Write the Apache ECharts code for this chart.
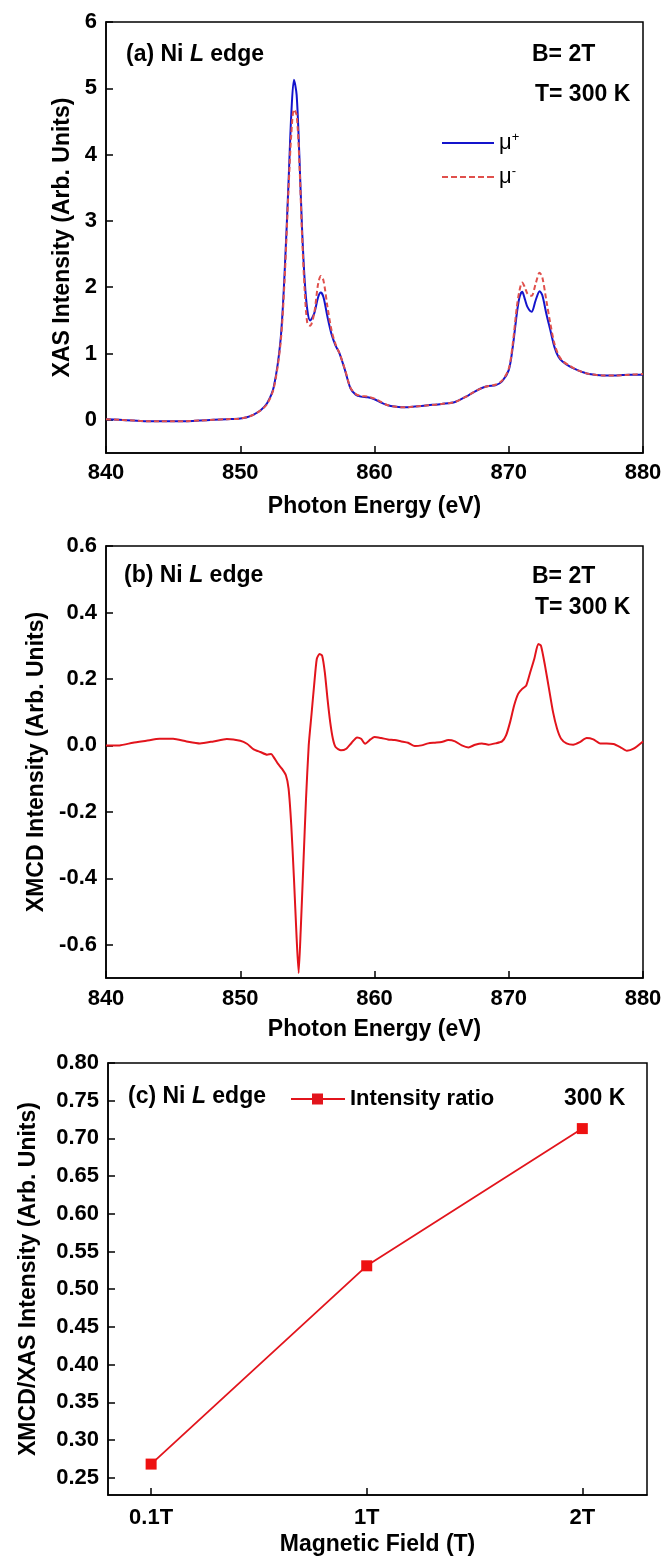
<!DOCTYPE html>
<html>
<head>
<meta charset="utf-8">
<title>Ni L edge XAS / XMCD</title>
<script src="https://cdn.jsdelivr.net/npm/echarts@6/dist/echarts.min.js"></script>
<style>
  html, body { margin: 0; padding: 0; background: #fff; }
  #chart { width: 667px; height: 1559px; }
</style>
</head>
<body>
<div id="chart"></div>
<script>
// (a) XAS, photon energy (eV) and the two helicities
var energyA = [840, 841, 842, 843, 844, 845, 846, 847, 848, 849, 850, 850.5, 851, 851.5, 852, 852.5, 853, 853.3, 853.6, 853.8,
  854.0, 854.2, 854.4, 854.6, 854.8, 855.0, 855.2, 855.5, 855.8, 856.0, 856.2, 856.5, 856.8, 857.1, 857.4, 857.8, 858.2, 858.6, 859.0, 859.5,
  860.0, 860.5, 861.0, 861.5, 862.0, 862.5, 863, 864, 865, 866, 867, 867.5, 868, 868.5, 869, 869.5, 870, 870.3, 870.6, 870.8,
  871.0, 871.2, 871.4, 871.7, 872.0, 872.3, 872.5, 872.8, 873.1, 873.4, 873.7, 874.0, 874.5, 875, 875.5, 876, 877, 878, 879, 880];
var muPlus = [0.01, 0.0, -0.01, -0.02, -0.02, -0.02, -0.02, -0.01, 0.0, 0.01, 0.02, 0.04, 0.08, 0.14, 0.25, 0.5, 1.2, 2.2, 3.6, 4.6,
  5.13, 4.9, 4.0, 2.9, 2.1, 1.65, 1.5, 1.6, 1.85, 1.92, 1.85, 1.55, 1.29, 1.12, 1.0, 0.75, 0.48, 0.38, 0.35, 0.34,
  0.31, 0.26, 0.22, 0.2, 0.19, 0.19, 0.2, 0.22, 0.24, 0.27, 0.37, 0.43, 0.48, 0.51, 0.52, 0.58, 0.75, 1.1, 1.6, 1.85,
  1.93, 1.82, 1.7, 1.63, 1.8, 1.94, 1.88, 1.6, 1.35, 1.1, 0.95, 0.88, 0.81, 0.76, 0.72, 0.69, 0.67, 0.67, 0.68, 0.68];
var muMinus = [0.01, 0.0, -0.01, -0.02, -0.02, -0.02, -0.02, -0.01, 0.0, 0.01, 0.02, 0.04, 0.08, 0.14, 0.24, 0.48, 1.15, 2.1, 3.5, 4.3,
  4.68, 4.6, 3.9, 2.8, 1.95, 1.45, 1.42, 1.6, 2.05, 2.17, 2.1, 1.7, 1.35, 1.14, 1.0, 0.76, 0.49, 0.39, 0.36, 0.35,
  0.32, 0.27, 0.22, 0.2, 0.19, 0.19, 0.2, 0.22, 0.24, 0.27, 0.37, 0.43, 0.48, 0.51, 0.53, 0.59, 0.77, 1.15, 1.7, 1.95,
  2.07, 2.0, 1.9, 1.87, 2.05, 2.22, 2.15, 1.8, 1.45, 1.15, 0.98, 0.89, 0.82, 0.76, 0.72, 0.69, 0.67, 0.67, 0.68, 0.69];

// (b) XMCD difference
var energyB = [840, 841, 842, 843, 844, 845, 846, 847, 848, 849, 850, 850.5, 851, 851.5, 852, 852.3, 852.5, 852.8, 853.1, 853.4,
  853.6, 853.8, 854.0, 854.2, 854.35, 854.5, 854.7, 854.9, 855.1, 855.3, 855.5, 855.7, 855.9, 856.1, 856.3, 856.5, 856.7, 856.9, 857.1, 857.5,
  857.9, 858.3, 858.7, 859.0, 859.3, 859.7, 860.0, 860.5, 861, 861.5, 862, 862.5, 863, 863.5, 864, 864.5, 865, 865.5, 866, 866.5,
  867, 867.5, 868, 868.5, 869, 869.5, 869.8, 870.1, 870.4, 870.7, 871.0, 871.3, 871.6, 871.9, 872.2, 872.4, 872.7, 873.0, 873.3, 873.6,
  873.9, 874.3, 874.8, 875.3, 875.8, 876.3, 876.8, 877.3, 877.8, 878.3, 878.8, 879.3, 880];
var xmcd = [0.0, 0.0, 0.008, 0.014, 0.02, 0.02, 0.012, 0.006, 0.012, 0.019, 0.014, 0.005, -0.012, -0.02, -0.028, -0.026, -0.036, -0.055, -0.07, -0.09,
  -0.13, -0.24, -0.4, -0.58, -0.685, -0.56, -0.36, -0.16, 0.0, 0.09, 0.18, 0.26, 0.275, 0.27, 0.22, 0.14, 0.07, 0.02, -0.005, -0.015,
  -0.01, 0.008, 0.024, 0.02, 0.005, 0.018, 0.025, 0.022, 0.018, 0.016, 0.012, 0.008, -0.002, 0.0, 0.006, 0.008, 0.01, 0.016, 0.012, 0.0,
  -0.006, 0.002, 0.006, 0.002, 0.006, 0.012, 0.03, 0.07, 0.12, 0.155, 0.17, 0.18, 0.22, 0.26, 0.305, 0.3, 0.24, 0.17, 0.1, 0.05,
  0.02, 0.006, 0.002, 0.01, 0.022, 0.018, 0.006, 0.006, 0.004, -0.005, -0.016, -0.01, 0.012];

// (c) XMCD/XAS ratio vs field
var fields = ['0.1T', '1T', '2T'];
var fieldPos = [1, 2, 3];
var ratio = [0.268, 0.531, 0.713];

// tick labels
var ticksA = [0, 1, 2, 3, 4, 5, 6];
var ticksB = [-0.6, -0.4, -0.2, 0.0, 0.2, 0.4, 0.6];
var ticksC = [0.25, 0.30, 0.35, 0.40, 0.45, 0.50, 0.55, 0.60, 0.65, 0.70, 0.75, 0.80];

var FONT = '"Liberation Sans", Arial, sans-serif';

// legend icons: plain line, dashed line, line with square
var ICON_SOLID = 'path://M0,0h52v2h-52z';
var ICON_DASH = 'path://M0,0h6v2h-6zM9,0h6v2h-6zM18,0h6v2h-6zM27,0h6v2h-6zM36,0h6v2h-6zM45,0h7v2h-7z';
var ICON_SQUARE = 'path://M0,4.5h21v2h-21zM21,0h11v11h-11zM32,4.5h22v2h-22z';

function zip(xs, ys) {
  var out = [];
  for (var i = 0; i < xs.length; i++) out.push([xs[i], ys[i]]);
  return out;
}

function xAxisBase(gridIndex) {
  return {
    type: 'value', gridIndex: gridIndex, min: 840, max: 880, interval: 10,
    name: 'Photon Energy (eV)', nameLocation: 'middle', nameGap: 42,
    nameTextStyle: { fontFamily: FONT, fontWeight: 'bold', fontSize: 23, color: '#000' },
    axisLine: { onZero: false, lineStyle: { color: '#000', width: 1.5 } },
    axisTick: { inside: true, length: 7, lineStyle: { color: '#000', width: 1.5 } },
    axisLabel: { fontFamily: FONT, fontWeight: 'bold', fontSize: 22, color: '#000', margin: 9 },
    splitLine: { show: false }
  };
}

function yAxisBase(gridIndex, ticks, digits, name, gap) {
  return {
    type: 'value', gridIndex: gridIndex,
    name: name, nameLocation: 'middle', nameGap: gap,
    nameTextStyle: { fontFamily: FONT, fontWeight: 'bold', fontSize: 23, color: '#000' },
    axisLine: { onZero: false, lineStyle: { color: '#000', width: 1.5 } },
    axisTick: { inside: true, length: 7, customValues: ticks, lineStyle: { color: '#000', width: 1.5 } },
    axisLabel: {
      fontFamily: FONT, fontWeight: 'bold', fontSize: 22, color: '#000', margin: 9, customValues: ticks,
      formatter: function(v) { return v.toFixed(digits); }
    },
    splitLine: { show: false }
  };
}

function label(txt, left, cy) {
  return {
    text: txt, left: left, top: cy - 13,
    textStyle: {
      fontFamily: FONT, fontWeight: 'bold', fontSize: 23, color: '#000', lineHeight: 26,
      rich: {
        n: { fontFamily: FONT, fontWeight: 'bold', fontSize: 23, color: '#000' },
        i: { fontFamily: FONT, fontWeight: 'bold', fontStyle: 'italic', fontSize: 23, color: '#000' }
      }
    }
  };
}

var yA = yAxisBase(0, ticksA, 0, 'XAS Intensity (Arb. Units)', 30);
yA.min = -0.5; yA.max = 6;
var yB = yAxisBase(1, ticksB, 1, 'XMCD Intensity (Arb. Units)', 55);
yB.min = -0.7; yB.max = 0.6;
var yC = yAxisBase(2, ticksC, 2, 'XMCD/XAS Intensity (Arb. Units)', 68);
yC.min = 0.227; yC.max = 0.8;

var xA = xAxisBase(0);
var xB = xAxisBase(1);
xB.axisLabel.margin = 10; xB.nameGap = 40;
var xC = xAxisBase(2);
xC.min = 0.8; xC.max = 3.3; delete xC.interval;
xC.name = 'Magnetic Field (T)'; xC.nameGap = 38;
xC.axisTick.customValues = fieldPos;
xC.axisLabel.customValues = fieldPos;
xC.axisLabel.margin = 12;
xC.axisLabel.formatter = function(v) { return fields[fieldPos.indexOf(v)]; };

var gridStyle = { show: true, borderColor: '#000', borderWidth: 1.5, backgroundColor: 'transparent' };

var legendText = {
  fontFamily: FONT, fontSize: 22, color: '#000', lineHeight: 24,
  rich: {
    m: { fontFamily: FONT, fontSize: 22, color: '#000' },
    s: { fontFamily: FONT, fontSize: 13, color: '#000', verticalAlign: 'top', lineHeight: 24 }
  }
};

var option = {
  animation: false,
  backgroundColor: '#fff',
  grid: [
    Object.assign({ left: 106, right: 24, top: 22, height: 431 }, gridStyle),
    Object.assign({ left: 106, right: 24, top: 546, height: 432 }, gridStyle),
    Object.assign({ left: 108, right: 20, top: 1063, height: 432 }, gridStyle)
  ],
  xAxis: [xA, xB, xC],
  yAxis: [yA, yB, yC],
  title: [
    label('{n|(a) Ni }{i|L}{n| edge}', 121, 50),
    label('B= 2T', 527, 50),
    label('T= 300 K', 530, 90),
    label('{n|(b) Ni }{i|L}{n| edge}', 119, 571),
    label('B= 2T', 527, 572),
    label('T= 300 K', 530, 603),
    label('{n|(c) Ni }{i|L}{n| edge}', 123, 1092),
    label('300 K', 559, 1094)
  ],
  legend: [
    {
      data: [{ name: 'mu+', icon: ICON_SOLID }, { name: 'mu-', icon: ICON_DASH }],
      orient: 'vertical', left: 437, top: 126,
      itemWidth: 52, itemHeight: 2, itemGap: 10,
      textStyle: legendText,
      formatter: function(name) { return name === 'mu+' ? '{m|μ}{s|+}' : '{m|μ}{s|-}'; }
    },
    {
      data: [{ name: 'Intensity ratio', icon: ICON_SQUARE }], left: 286, top: 1083,
      itemWidth: 54, itemHeight: 11, itemStyle: { color: '#e2141c' },
      textStyle: { fontFamily: FONT, fontWeight: 'bold', fontSize: 22, color: '#000' }
    }
  ],
  series: [
    {
      name: 'mu+', type: 'line', xAxisIndex: 0, yAxisIndex: 0, showSymbol: false, symbol: 'none',
      smooth: 0.3, data: zip(energyA, muPlus), z: 2,
      lineStyle: { color: '#1414cc', width: 2 }, itemStyle: { color: '#1414cc' }
    },
    {
      name: 'mu-', type: 'line', xAxisIndex: 0, yAxisIndex: 0, showSymbol: false, symbol: 'none',
      smooth: 0.3, data: zip(energyA, muMinus), z: 3,
      lineStyle: { color: '#e0504c', width: 2, type: [5, 3] }, itemStyle: { color: '#e0504c' }
    },
    {
      name: 'XMCD', type: 'line', xAxisIndex: 1, yAxisIndex: 1, showSymbol: false, symbol: 'none',
      smooth: 0.2, data: zip(energyB, xmcd),
      lineStyle: { color: '#e2141c', width: 2 }
    },
    {
      name: 'Intensity ratio', type: 'line', xAxisIndex: 2, yAxisIndex: 2,
      symbol: 'rect', symbolSize: 11, data: zip(fieldPos, ratio),
      lineStyle: { color: '#e2141c', width: 1.8 }, itemStyle: { color: '#ee1111' }
    }
  ]
};

var chart = echarts.init(document.getElementById('chart'), null, { renderer: 'canvas' });
chart.setOption(option);
</script>
</body>
</html>
